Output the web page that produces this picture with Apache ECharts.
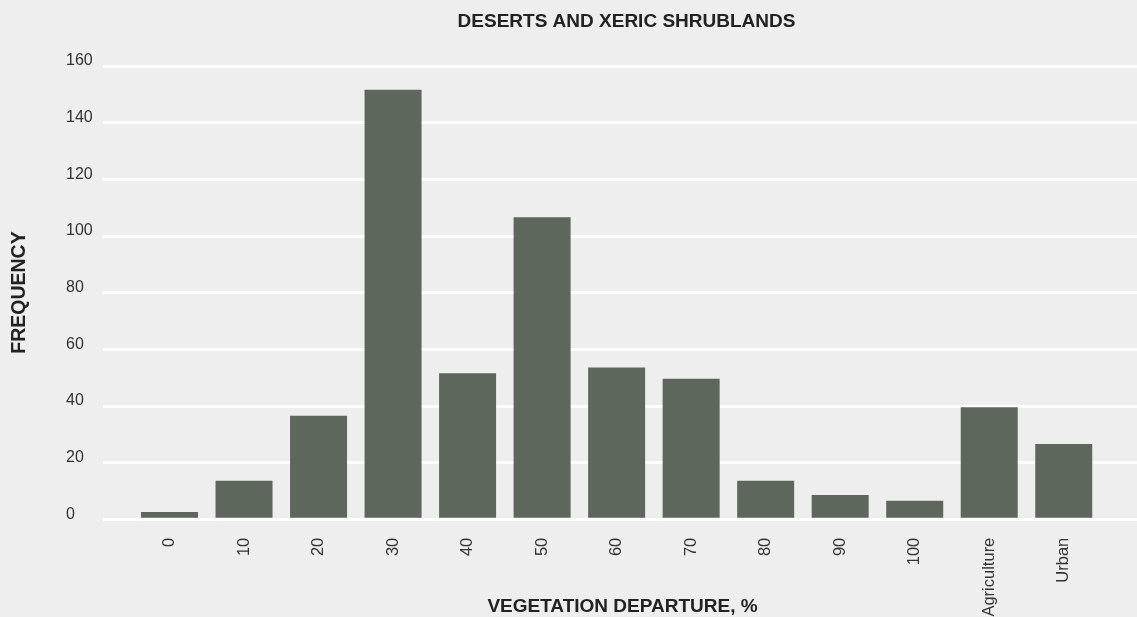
<!DOCTYPE html>
<html>
<head>
<meta charset="utf-8">
<script src="https://cdn.jsdelivr.net/npm/echarts@6/dist/echarts.min.js"></script>
<style>html,body{margin:0;padding:0;background:#eeeeee;}#c{width:1137px;height:617px;}</style>
</head>
<body>
<div id="c"></div>
<script>
const categories = ['0','10','20','30','40','50','60','70','80','90','100','Agriculture','Urban'];
const frequency = [2, 13, 36, 151, 51, 106, 53, 49, 13, 8, 6, 39, 26];
const yTicks = {min: 0, max: 160, interval: 20};
const titleText = 'DESERTS AND XERIC SHRUBLANDS';
const xName = 'VEGETATION DEPARTURE, %';
const yName = 'FREQUENCY';

const FONT = '"Liberation Sans", Arial, Helvetica, sans-serif';
const chart = echarts.init(document.getElementById('c'), null, {renderer: 'canvas'});
chart.setOption({
  backgroundColor: '#eeeeee',
  animation: false,
  graphic: [
    {type: 'text', x: 626.5, y: 21.5, z: 10,
     style: {text: titleText, font: 'bold 19px ' + FONT, fill: '#222', textAlign: 'center', textVerticalAlign: 'middle'}},
    {type: 'text', x: 622.5, y: 606.5, z: 10,
     style: {text: xName, font: 'bold 19px ' + FONT, fill: '#222', textAlign: 'center', textVerticalAlign: 'middle'}},
    {type: 'text', x: 20, y: 292.5, rotation: Math.PI / 2, z: 10,
     style: {text: yName, font: 'bold 19.5px ' + FONT, fill: '#222', textAlign: 'center', textVerticalAlign: 'middle'}}
  ],
  grid: [
    {left: 103, right: 0, top: 65.8, bottom: 97.8, outerBoundsMode: 'none', containLabel: false},
    {left: 132.25, right: 36, top: 64.3, bottom: 99.3, outerBoundsMode: 'none', containLabel: false}
  ],
  xAxis: [
    {gridIndex: 0, type: 'value', show: false, min: 0, max: 1},
    {gridIndex: 1, type: 'category', data: categories,
     axisLine: {show: false}, axisTick: {show: false},
     axisLabel: {rotate: 90, margin: 20, fontFamily: FONT, fontSize: 16.5, color: '#333'}}
  ],
  yAxis: [
    {gridIndex: 0, type: 'value', min: yTicks.min, max: yTicks.max, interval: yTicks.interval,
     axisLine: {show: false}, axisTick: {show: false},
     splitLine: {show: true, lineStyle: {color: '#ffffff', width: 3}},
     axisLabel: {align: 'left', margin: 37, fontFamily: FONT, fontSize: 16, color: '#333',
                 verticalAlign: 'bottom', lineHeight: 10}},
    {gridIndex: 1, type: 'value', min: yTicks.min, max: yTicks.max, interval: yTicks.interval, show: false,
     splitLine: {show: false}}
  ],
  series: [{
    type: 'bar', xAxisIndex: 1, yAxisIndex: 1,
    data: frequency,
    barWidth: '76.5%',
    itemStyle: {color: '#5d675b'}
  }]
});
</script>
</body>
</html>
